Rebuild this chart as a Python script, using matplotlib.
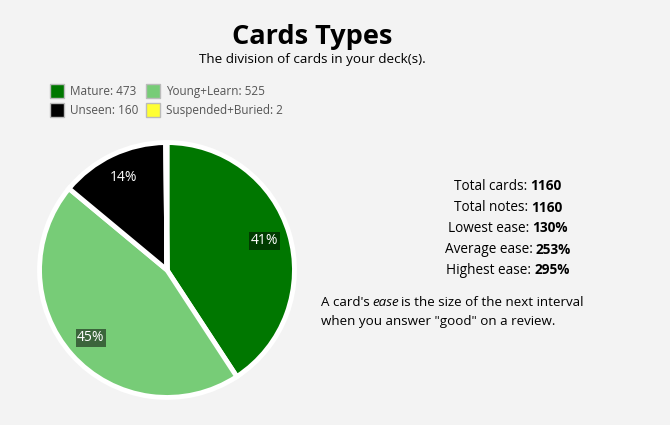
import matplotlib
matplotlib.use("Agg")
import matplotlib.pyplot as plt
from matplotlib.patches import Rectangle

categories = ["Mature", "Young+Learn", "Unseen", "Suspended+Buried"]
counts = [473, 525, 160, 2]
colors = ["#007700", "#77cc77", "#000000", "#ffff33"]
stat_labels = ["Total cards:", "Total notes:", "Lowest ease:", "Average ease:", "Highest ease:"]
stat_values = ["1160", "1160", "130%", "253%", "295%"]

W, H = 670, 425
BG = "#f3f3f3"
FONT = ["Open Sans", "DejaVu Sans"]
plt.rcParams["font.family"] = FONT

fig = plt.figure(figsize=(W / 100, H / 100), dpi=100, facecolor=BG)

def fx(x):
    return x / W

def fy(y):
    return 1 - y / H

# Title
fig.text(fx(312), fy(37), "Cards Types", ha="center", va="center",
         fontsize=19.5, fontweight="bold", color="black")
fig.text(fx(312), fy(59), "The division of cards in your deck(s).", ha="center",
         va="center", fontsize=9.7, color="black")

# Legend (manual)
leg_pos = [(50, 91), (146, 91), (50, 110), (146, 110)]
for (x, y), cat, n, c in zip(leg_pos, categories, counts, colors):
    fig.patches.append(Rectangle((fx(x), fy(y + 7)), 14 / W, 14 / H,
                                 transform=fig.transFigure, facecolor=c,
                                 edgecolor="#bbbbbb", linewidth=1))
    fig.text(fx(x + 20), fy(y + 0.5), f"{cat}: {n}", ha="left", va="center",
             fontsize=8.5, color="#555555")

# Pie
cx, cy, r = 167, 270, 130
ax = fig.add_axes([fx(cx - r), fy(cy + r), 2 * r / W, 2 * r / H])
ax.set_facecolor("none")
def pct(p):
    return f"{p:.0f}%" if p >= 1 else ""
wedges, texts, autotexts = ax.pie(
    counts, colors=colors, startangle=90, counterclock=False,
    autopct=pct, pctdistance=0.8,
    wedgeprops=dict(edgecolor="white", linewidth=3.5),
    textprops=dict(color="white", fontsize=10))
for t in autotexts:
    if t.get_text():
        t.set_bbox(dict(facecolor="black", alpha=0.5, edgecolor="none", pad=1.2))
ax.set_xlim(-1.02, 1.02)
ax.set_ylim(-1.02, 1.02)
ax.set_aspect("equal")
ax.axis("off")

# Stats (centered lines with bold values)
fig.canvas.draw()
renderer = fig.canvas.get_renderer()
stat_y = [186.5, 207.5, 228.5, 249.5, 270.5]
center_x = 508
gap = 3
for lab, val, y in zip(stat_labels, stat_values, stat_y):
    t1 = fig.text(0, fy(y), lab, ha="left", va="center", fontsize=9.8, color="black")
    t2 = fig.text(0, fy(y), val, ha="left", va="center", fontsize=9.8,
                  fontweight="bold", color="black")
    w1 = t1.get_window_extent(renderer).width
    w2 = t2.get_window_extent(renderer).width
    x0 = center_x - (w1 + gap + w2) / 2
    t1.set_x(fx(x0))
    t2.set_x(fx(x0 + w1 + gap))

# Footnote
runs = [("A card's", "normal", 0), ("ease", "italic", 3), ("is the size of the next interval", "normal", 2)]
x = 321
for s, style, g in runs:
    x += g
    t = fig.text(fx(x), fy(303), s, ha="left", va="center", fontsize=9.6,
                 style=style, color="black")
    x += t.get_window_extent(renderer).width
fig.text(fx(321), fy(322), 'when you answer "good" on a review.', ha="left",
         va="center", fontsize=9.6, color="black")

fig.savefig("out.png", dpi=100, facecolor=BG)
